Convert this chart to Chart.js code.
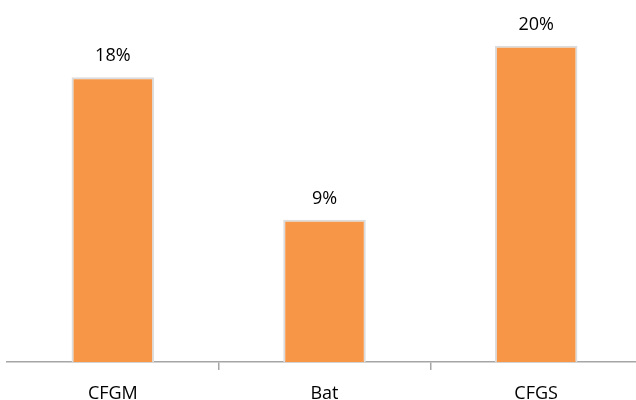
<!DOCTYPE html>
<html>
<head>
<meta charset="utf-8">
<script src="https://cdn.jsdelivr.net/npm/chart.js@4"></script>
<style>
  html, body { margin: 0; padding: 0; background: #fff; overflow: hidden; }
  #wrap { width: 642px; height: 400px; }
</style>
</head>
<body>
<div id="wrap"><canvas id="myChart"></canvas></div>
<script>
const categories = ['CFGM', 'Bat', 'CFGS']
const values = [18, 9, 20]
const valueLabels = ['18%', '9%', '20%']

addEventListener('DOMContentLoaded', () => {
  const ctx = document.getElementById('myChart')

  // value labels above each bar
  const barLabels = {
    id: 'barLabels',
    afterDatasetsDraw(chart) {
      const c = chart.ctx
      const meta = chart.getDatasetMeta(0)
      c.save()
      c.font = '18px "Open Sans"'
      c.fillStyle = '#000'
      c.textAlign = 'center'
      c.textBaseline = 'alphabetic'
      meta.data.forEach((bar, i) => {
        c.fillText(valueLabels[i], bar.x, bar.y - 16)
      })
      c.restore()
    }
  }

  new Chart(ctx, {
    type: 'bar',
    data: {
      labels: categories,
      datasets: [
        {
          data: values,
          backgroundColor: '#F79646',
          borderColor: '#dcdcdc',
          borderWidth: 2,
          barPercentage: 0.39,
          categoryPercentage: 1
        }
      ]
    },
    options: {
      responsive: true,
      maintainAspectRatio: false,
      animation: false,
      layout: { padding: { left: 7, top: 14, right: 0, bottom: 0 } },
      plugins: {
        legend: { display: false },
        tooltip: { enabled: false }
      },
      scales: {
        x: {
          afterFit(scale) { scale.height = 38 },
          border: { color: '#a6a6a6', width: 1.5 },
          grid: {
            offset: true,
            drawOnChartArea: false,
            tickLength: 8,
            lineWidth: 1.5,
            color: (c) => (c.index === 0 || c.index === 3) ? 'rgba(0,0,0,0)' : '#a6a6a6'
          },
          ticks: {
            color: '#000',
            font: { family: 'Open Sans', size: 18 },
            padding: 13
          }
        },
        y: {
          display: false,
          min: 0,
          max: 22
        }
      }
    },
    plugins: [barLabels]
  })
})
</script>
</body>
</html>
